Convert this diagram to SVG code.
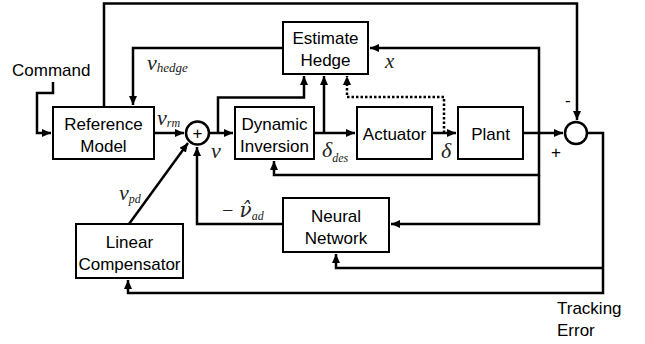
<svg xmlns="http://www.w3.org/2000/svg" width="645" height="344" viewBox="0 0 645 344">
<style>
.box{fill:#fff;stroke:#000;stroke-width:2}
.t{font-family:"Liberation Sans",Arial,sans-serif;font-size:17px;fill:#000;text-anchor:middle}
.tl{font-family:"Liberation Sans",Arial,sans-serif;font-size:17px;fill:#000}
.c{fill:none;stroke:#000;stroke-width:2.5}
.m{font-family:"Liberation Serif","Times New Roman",serif;font-style:italic;fill:#222}
</style>
<defs>
<marker id="ar" markerUnits="userSpaceOnUse" markerWidth="10" markerHeight="8" refX="9" refY="4" orient="auto">
<path d="M0,0 L9,4 L0,8 z" fill="#000"/>
</marker>
</defs>
<g id="connectors">
<polyline class="c" points="53,82 53,93 37,93 37,133 51,133" marker-end="url(#ar)"/>
<polyline class="c" points="104,107 104,3.5 577,3.5 577,120" marker-end="url(#ar)"/>
<polyline class="c" points="283,48 133,48 133,105" marker-end="url(#ar)"/>
<line class="c" x1="154" y1="133" x2="184" y2="133" marker-end="url(#ar)"/>
<line class="c" x1="209" y1="133" x2="233" y2="133" marker-end="url(#ar)"/>
<polyline class="c" points="218,133 218,97.5 304,97.5 304,76" marker-end="url(#ar)"/>
<line class="c" x1="314" y1="133" x2="355" y2="133" marker-end="url(#ar)"/>
<polyline class="c" points="324,133 324,76" marker-end="url(#ar)"/>
<line class="c" x1="432" y1="133" x2="456" y2="133" marker-end="url(#ar)"/>
<polyline class="c" points="444,133 444,97 347,97 347,76" stroke-dasharray="2.5,2" stroke-width="3" marker-end="url(#ar)"/>
<line class="c" x1="523" y1="133" x2="563" y2="133" marker-end="url(#ar)"/>
<polyline class="c" points="539,133 539,48 370,48" marker-end="url(#ar)"/>
<polyline class="c" points="539,133 539,175 274,175 274,161" marker-end="url(#ar)"/>
<polyline class="c" points="539,175 539,224 391,224" marker-end="url(#ar)"/>
<polyline class="c" points="587,133 603,133 603,293 128,293 128,280" marker-end="url(#ar)"/>
<polyline class="c" points="603,268 336,268 336,254" marker-end="url(#ar)"/>
<polyline class="c" points="283,224 197,224 197,147" marker-end="url(#ar)"/>
<line class="c" x1="129" y1="224" x2="188" y2="143" marker-end="url(#ar)"/>
</g>
<g id="command"><text class="tl" x="12" y="76">Command</text></g>
<g id="reference-model">
<rect class="box" x="53" y="107" width="101" height="52"/>
<text class="t" x="103.5" y="130">Reference</text>
<text class="t" x="103.5" y="152">Model</text>
</g>
<g id="sum1">
<circle cx="197.5" cy="133" r="11.5" fill="#fff" stroke="#000" stroke-width="2.5"/>
<text class="t" x="197.5" y="139">+</text>
</g>
<g id="dynamic-inversion">
<rect class="box" x="235" y="107" width="79" height="52"/>
<text class="t" x="274.5" y="130">Dynamic</text>
<text class="t" x="274.5" y="152">Inversion</text>
</g>
<g id="estimate-hedge">
<rect class="box" x="283" y="22" width="85" height="52"/>
<text class="t" x="325.5" y="44">Estimate</text>
<text class="t" x="325.5" y="66">Hedge</text>
</g>
<g id="actuator">
<rect class="box" x="357" y="107" width="75" height="52"/>
<text class="t" x="394.5" y="140">Actuator</text>
</g>
<g id="plant">
<rect class="box" x="458" y="107" width="65" height="52"/>
<text class="t" x="490.5" y="140">Plant</text>
</g>
<g id="sum2">
<circle cx="576" cy="133" r="11" fill="#fff" stroke="#000" stroke-width="2.5"/>
<text class="tl" x="565" y="106">-</text>
<text class="tl" x="551" y="158">+</text>
</g>
<g id="neural-network">
<rect class="box" x="283" y="198" width="106" height="54"/>
<text class="t" x="336" y="222">Neural</text>
<text class="t" x="336" y="244">Network</text>
</g>
<g id="linear-compensator">
<rect class="box" x="76" y="224" width="107" height="54"/>
<text class="t" x="129.5" y="248">Linear</text>
<text class="t" x="129.5" y="270">Compensator</text>
</g>
<g id="tracking-error">
<text class="tl" x="557" y="314">Tracking</text>
<text class="tl" x="557" y="336">Error</text>
</g>
<g id="labels">
<text class="m" x="147" y="70" font-size="22">ν<tspan font-size="13" dy="2">hedge</tspan></text>
<text class="m" x="157" y="125" font-size="22">ν<tspan font-size="12" dy="2">rm</tspan></text>
<text class="m" x="211" y="158" font-size="22">ν</text>
<text class="m" x="322" y="157" font-size="22">δ<tspan font-size="12" dy="5">des</tspan></text>
<text class="m" x="441" y="158" font-size="22">δ</text>
<text class="m" x="385" y="68" font-size="21">x</text>
<text class="m" x="119" y="200" font-size="22">ν<tspan font-size="12" dy="3">pd</tspan></text>
<text class="m" x="221" y="217" font-size="20">− <tspan font-size="20" font-family="'DejaVu Serif',serif">ν̂</tspan><tspan font-size="12" dy="3">ad</tspan></text>
</g>
</svg>
